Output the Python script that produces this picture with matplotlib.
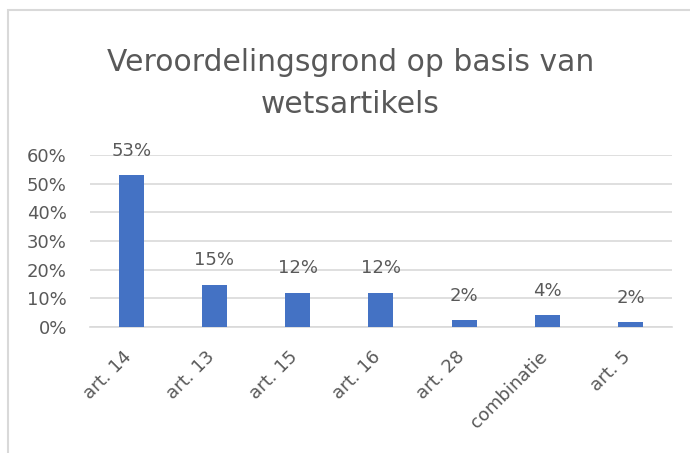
import matplotlib.pyplot as plt
from matplotlib.patches import Rectangle
import numpy as np

# chart data
categories = ['art. 14', 'art. 13', 'art. 15', 'art. 16', 'art. 28', 'combinatie', 'art. 5']
shares = [0.53, 0.148, 0.12, 0.12, 0.023, 0.042, 0.018]
labels = ['53%', '15%', '12%', '12%', '2%', '4%', '2%']
yticks = [0, 0.1, 0.2, 0.3, 0.4, 0.5, 0.6]

txt = '#595959'
fig = plt.figure(figsize=(6.9, 4.53), dpi=100)

# outer chart frame
fig.patches.append(Rectangle((8 / 690, -0.1), 1.0, 1 - 10 / 453 + 0.1,
                             transform=fig.transFigure, fill=False,
                             edgecolor='#d9d9d9', linewidth=1.5))

ax = fig.add_axes([0.130, 0.278, 0.844, 0.380])
x = np.arange(len(categories))
bars = ax.bar(x, shares, width=0.30, color='#4472c4', zorder=3)

for b, lab in zip(bars, labels):
    ax.annotate(lab, (b.get_x() + b.get_width() / 2, b.get_height()),
                xytext=(0, 11), textcoords='offset points',
                ha='center', va='bottom', fontsize=13, color=txt)

ax.set_ylim(0, 0.6)
ax.set_xlim(-0.5, len(categories) - 0.5)
ax.set_yticks(yticks)
ax.set_yticklabels([f'{int(round(t * 100))}%' for t in yticks], fontsize=13, color=txt)
ax.set_xticks(x)
ax.set_xticklabels([])
# category labels, rotated, end just left of each bar centre
for xi, cat in zip(x, categories):
    ax.annotate(cat, (xi, 0), xycoords=('data', 'axes fraction'),
                xytext=(-6.5, -15), textcoords='offset points',
                ha='right', va='top', rotation=45, rotation_mode='anchor',
                fontsize=13, color=txt)
ax.tick_params(axis='x', length=0)
ax.tick_params(axis='y', length=0, pad=16.5)
ax.yaxis.grid(True, color='#d9d9d9', linewidth=1.2, zorder=0)
for s in ['top', 'right', 'left']:
    ax.spines[s].set_visible(False)
ax.spines['bottom'].set_color('#d9d9d9')
ax.spines['bottom'].set_linewidth(1.2)

fig.text(0.508, 0.862, 'Veroordelingsgrond op basis van', ha='center', va='center',
         fontsize=21.4, color=txt)
fig.text(0.508, 0.770, 'wetsartikels', ha='center', va='center',
         fontsize=21.4, color=txt)

fig.savefig('out.png', dpi=100)
